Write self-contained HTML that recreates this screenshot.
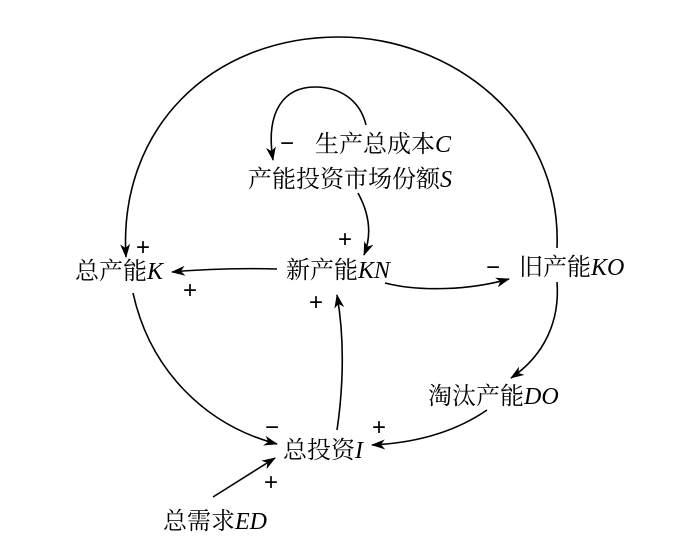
<!DOCTYPE html>
<html><head><meta charset="utf-8"><style>
html,body{margin:0;padding:0;background:#fff;}
svg{display:block;}
text{font-family:"Liberation Serif","Noto Serif CJK SC",serif;font-size:24px;fill:#000;}
.l{font-style:italic;}
.s{font-family:"Liberation Sans",sans-serif;font-size:24px;}
</style></head><body>
<svg width="688" height="545" viewBox="0 0 688 545" xmlns="http://www.w3.org/2000/svg">
<defs>
<marker id="a" viewBox="0 0 14 10" refX="13" refY="5" markerWidth="14" markerHeight="10" markerUnits="userSpaceOnUse" orient="auto">
<path d="M0,0 L14,5 L0,10 L4,5 Z" fill="#000"/>
</marker>
</defs>
<g fill="none" stroke="#000" stroke-width="1.6">
<path d="M557,248 C562,120 450,37 339,37 C210,37 118,130 126,257" marker-end="url(#a)"/>
<path d="M366,125 C360,100 340,87 315,87 C285,87 265,110 273,160" marker-end="url(#a)"/>
<path d="M358,193 C370,215 372,235 364,255" marker-end="url(#a)"/>
<path d="M277,269 C240,268 205,269 172,272" marker-end="url(#a)"/>
<path d="M385,283 C420,292 470,290 509,279" marker-end="url(#a)"/>
<path d="M557,282 C560,320 545,355 511,378" marker-end="url(#a)"/>
<path d="M487,410 C455,432 415,443 372,445" marker-end="url(#a)"/>
<path d="M133,293 C150,370 205,425 277,444" marker-end="url(#a)"/>
<path d="M337,430 C343,390 345,340 337,295" marker-end="url(#a)"/>
<path d="M213,497 L275,458" marker-end="url(#a)"/>
</g>
<text x="315" y="152">生产总成本<tspan class="l">C</tspan></text>
<text x="248" y="187">产能投资市场份额<tspan class="l">S</tspan></text>
<text x="75" y="279">总产能<tspan class="l">K</tspan></text>
<text x="286" y="278">新产能<tspan class="l">KN</tspan></text>
<text x="519" y="275">旧产能<tspan class="l">KO</tspan></text>
<text x="428" y="404">淘汰产能<tspan class="l">DO</tspan></text>
<text x="283" y="458">总投资<tspan class="l">I</tspan></text>
<text x="163" y="529">总需求<tspan class="l">ED</tspan></text>
<text class="s" x="280" y="151">−</text>
<text class="s" x="338" y="247">+</text>
<text class="s" x="136" y="255">+</text>
<text class="s" x="183" y="298">+</text>
<text class="s" x="486" y="275">−</text>
<text class="s" x="309" y="310">+</text>
<text class="s" x="265" y="435">−</text>
<text class="s" x="372" y="435">+</text>
<text class="s" x="264" y="490">+</text>
</svg>
</body></html>
